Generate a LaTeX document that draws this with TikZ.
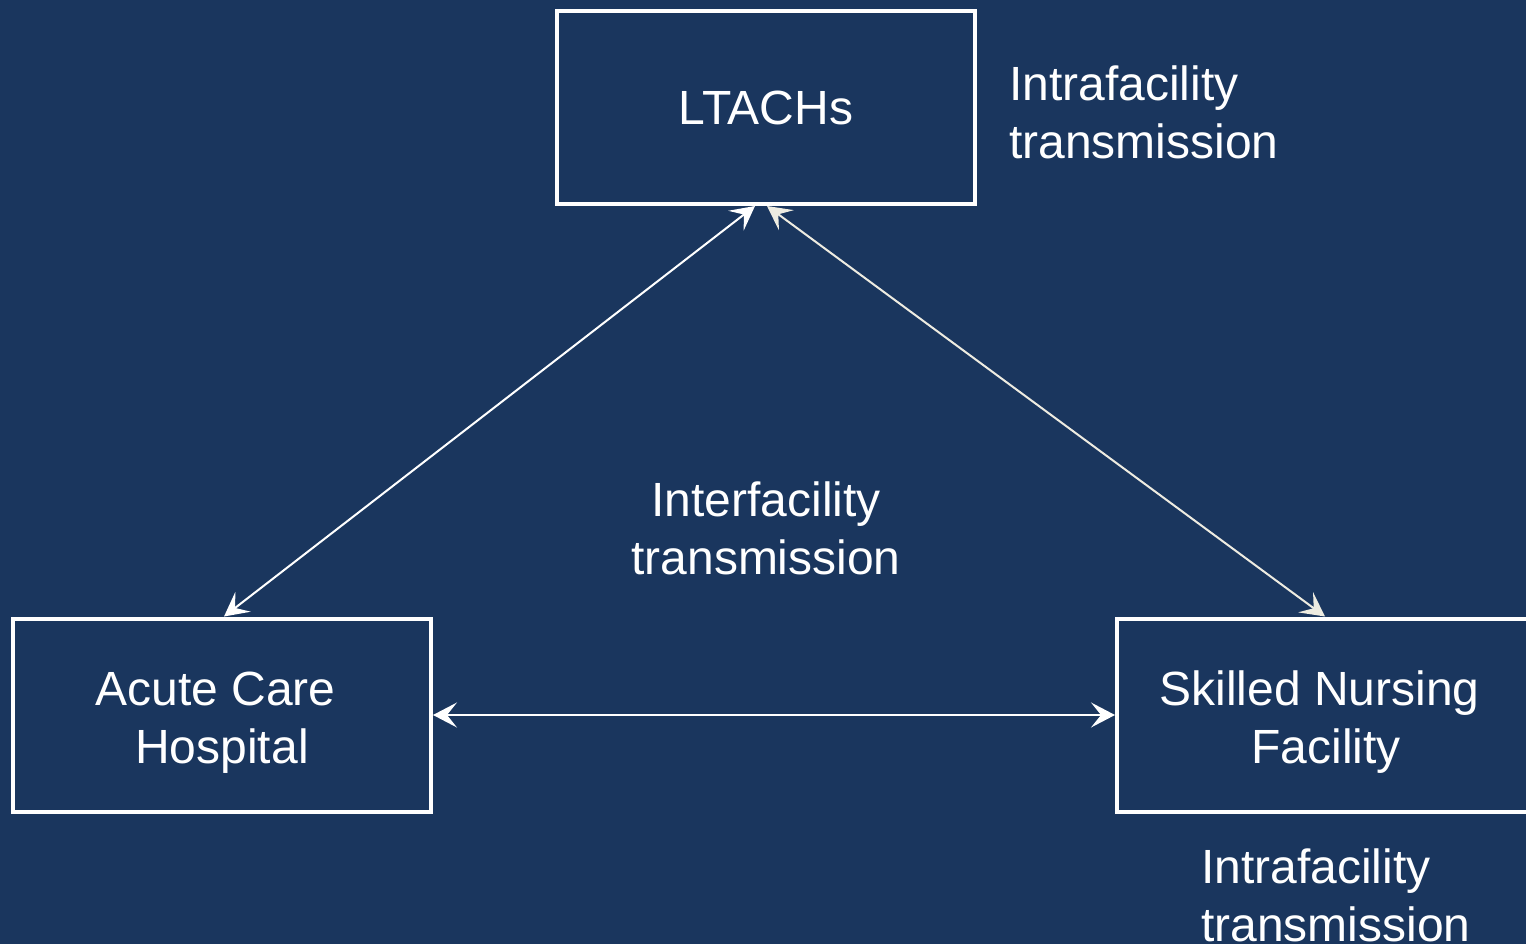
\documentclass[tikz,border=0pt]{standalone}
\usepackage{fontspec}
\setmainfont{Liberation Sans}
\usetikzlibrary{arrows.meta}
\definecolor{bg}{HTML}{1A365E}
\definecolor{cream}{HTML}{EEECE1}
\begin{document}
\begin{tikzpicture}[x=1pt,y=-1pt,
  boxnode/.style={draw=white,line width=4pt,minimum width=418pt,minimum height=193pt,inner sep=0pt,text=white,font=\fontsize{48}{58}\selectfont},
  lbl/.style={text=white,inner sep=0pt,font=\fontsize{48}{58}\selectfont},
  link/.style={line width=2pt,{Stealth[length=24pt,width=25pt,inset=10pt]}-{Stealth[length=24pt,width=25pt,inset=10pt]}}]
\useasboundingbox (0,0) rectangle (1526,944);
\fill[bg] (0,0) rectangle (1526,944);
\clip (0,0) rectangle (1526,944);
\node[boxnode] (ltach) at (766,107.5) {LTACHs};
\node[boxnode] (acute) at (222,715) {};
\node[boxnode] (snf) at (1326,715) {};
\node[lbl,align=center] (acutet) at (222,722.5) {Acute Care\kern13pt\\Hospital};
\node[lbl,align=center] (snft) at (1326,722.5) {Skilled Nursing\kern13pt\\Facility};
\node[lbl,align=left,anchor=west] (intra1) at (1009,112) {Intrafacility\\transmission};
\node[lbl,align=left,anchor=west] (intra2) at (1201,895.5) {Intrafacility\\transmission};
\node[lbl,align=center] (inter) at (766,528) {Interfacility\\transmission};
\draw[link,white] ([xshift=-11pt]ltach.south) -- ([xshift=2pt]acute.north);
\draw[link,cream] ([xshift=1pt]ltach.south) -- ([xshift=-1pt]snf.north);
\draw[link,white] (acute.east) -- (snf.west);
\end{tikzpicture}
\end{document}
